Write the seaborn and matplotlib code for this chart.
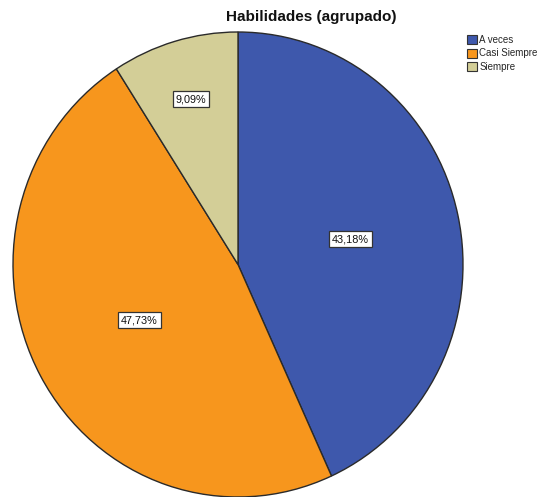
import numpy as np
import matplotlib
matplotlib.use("Agg")
import matplotlib.pyplot as plt
import seaborn as sns
from matplotlib.patches import Patch

categories = ["A veces", "Casi Siempre", "Siempre"]
percentages = [43.18, 47.73, 9.09]
colors = ["#3E58AC", "#F7961D", "#D3CE97"]

sns.set_theme(style="white")
plt.rcParams["font.family"] = ["Liberation Sans", "DejaVu Sans"]

fig = plt.figure(figsize=(5.55, 4.97), dpi=100)
ax = fig.add_axes([13 / 555, 0.0, 450 / 555, 465 / 497])

wedges, _ = ax.pie(
    percentages,
    colors=colors,
    startangle=90,
    counterclock=False,
    wedgeprops=dict(edgecolor="#2a2a2a", linewidth=1.0),
)
ax.set_aspect("auto")
ax.set_xlim(-1.0, 1.0)
ax.set_ylim(-1.0, 1.0)
ax.axis("off")

# value labels placed along each wedge's bisector
label_radius = [0.51, 0.50, 0.74]
for w, pct, r in zip(wedges, percentages, label_radius):
    ang = np.deg2rad((w.theta1 + w.theta2) / 2)
    ax.text(
        r * np.cos(ang), r * np.sin(ang),
        f"{pct:.2f}%".replace(".", ","),
        ha="center", va="center", fontsize=7.8, color="#111111",
        bbox=dict(boxstyle="square,pad=0.28", facecolor="white",
                  edgecolor="#333333", linewidth=0.9),
    )

fig.text(311 / 555, 1 - 17 / 497, "Habilidades (agrupado)",
         ha="center", va="center", fontsize=11, fontweight="bold",
         color="#111111")

handles = [Patch(facecolor=c, edgecolor="#333333", linewidth=0.8)
           for c in colors]
fig.legend(handles, categories, loc="upper left",
           bbox_to_anchor=(467 / 555, 1 - 35 / 497), frameon=False,
           fontsize=7, handlelength=1.05, handleheight=1.05,
           handletextpad=0.2, labelspacing=0.36, borderaxespad=0,
           borderpad=0)

fig.savefig("out.png", dpi=100)
